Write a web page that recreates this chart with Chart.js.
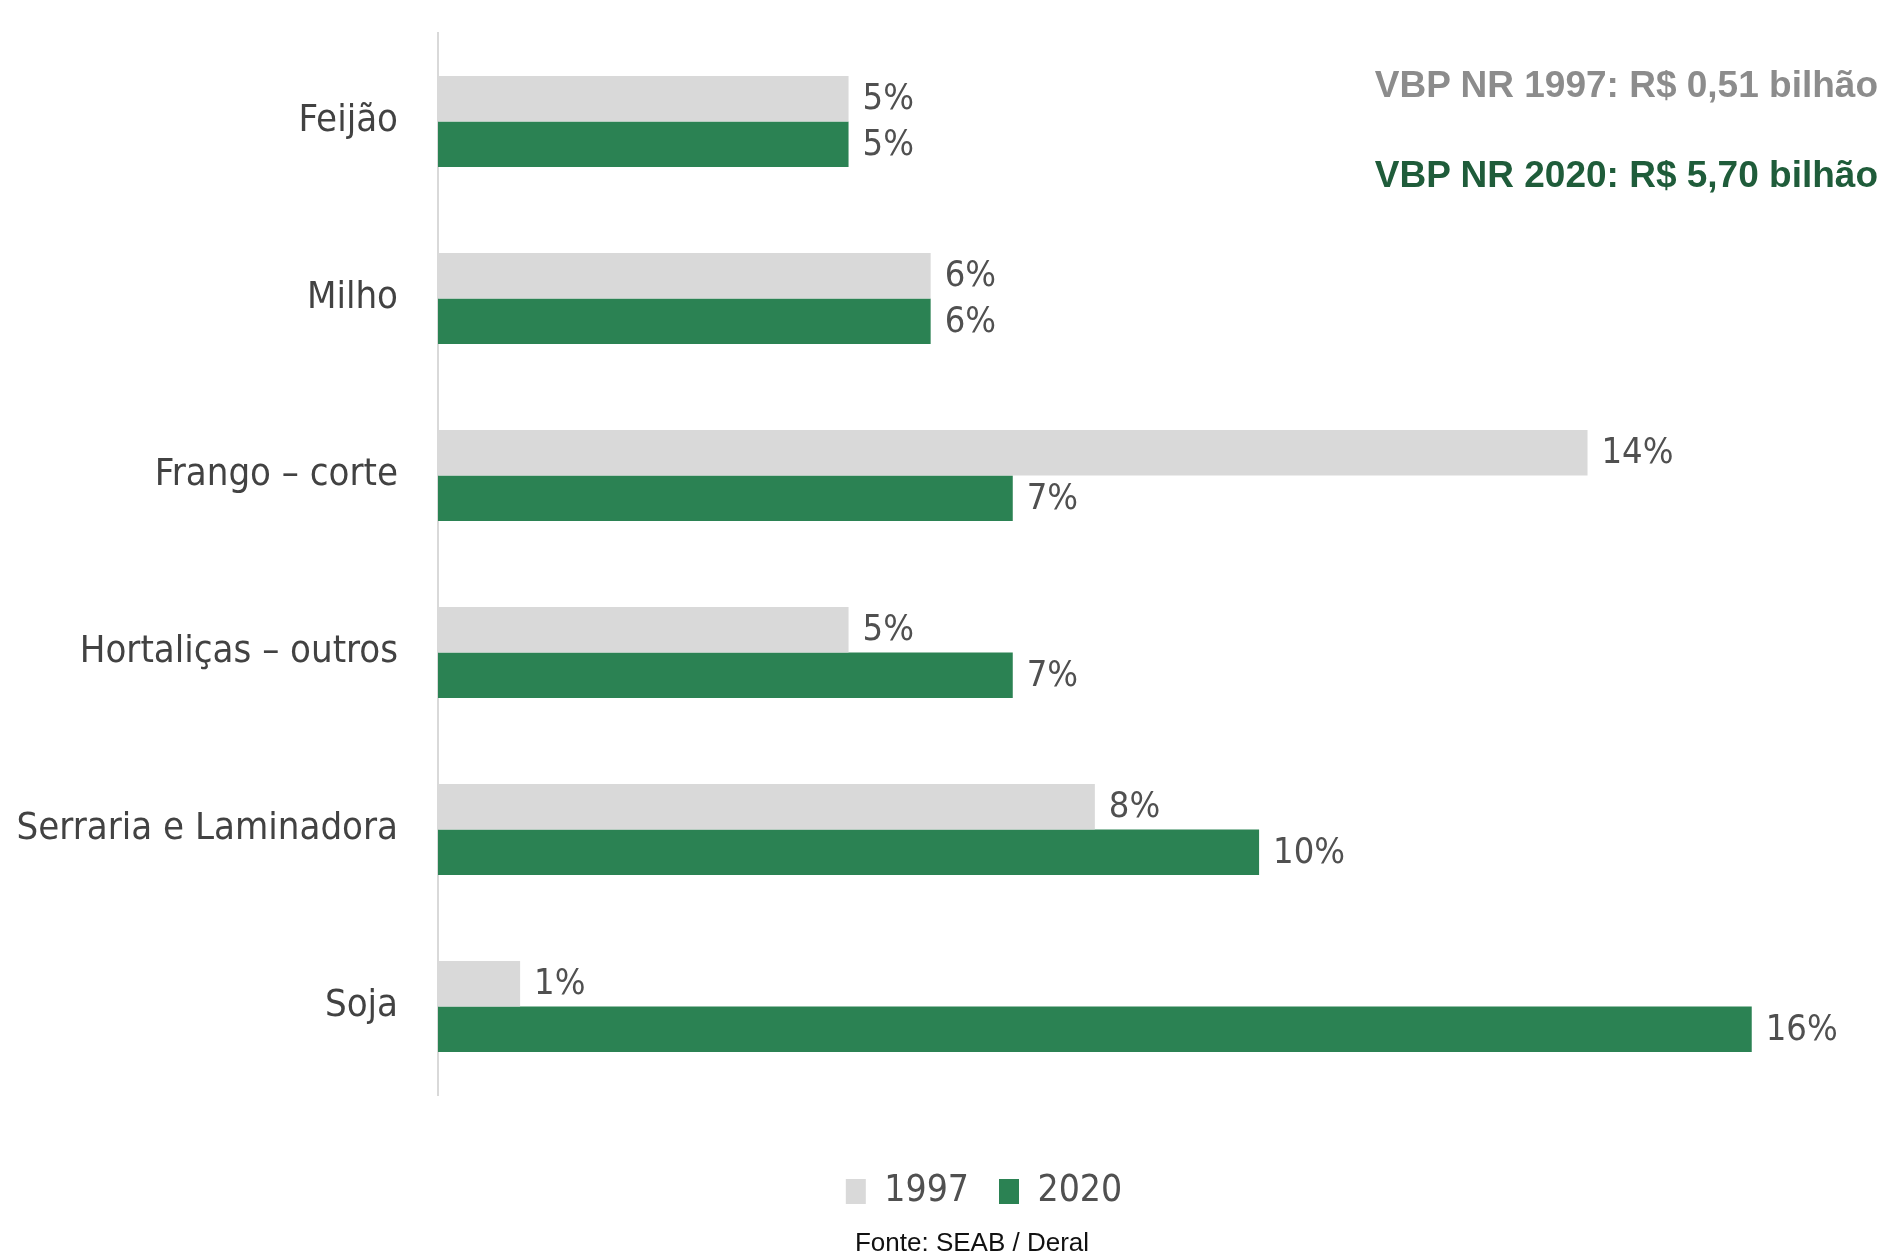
<!DOCTYPE html>
<html>
<head>
<meta charset="utf-8">
<script src="https://cdn.jsdelivr.net/npm/chart.js@4/dist/chart.umd.min.js"></script>
<style>
  html, body { margin: 0; padding: 0; background: #ffffff; }
  #wrap { position: relative; width: 1902px; height: 1254px; overflow: hidden; }
  #c { position: absolute; left: 0; top: 0; }
  .note { position: absolute; right: 24px; font-family: "Liberation Sans", Arial, sans-serif; font-weight: bold; font-size: 37px; white-space: nowrap; }
  #n1 { top: 64px; color: #8c8c8c; }
  #n2 { top: 154px; color: #1f5c3a; }
  #src { position: absolute; left: 972px; top: 1242px; transform: translate(-50%, -50%); font-family: "Liberation Sans", Arial, sans-serif; font-size: 26px; color: #111111; white-space: nowrap; }
</style>
</head>
<body>
<div id="wrap">
  <canvas id="c" width="1902" height="1254"></canvas>
  <div class="note" id="n1">VBP NR 1997: R$ 0,51 bilhão</div>
  <div class="note" id="n2">VBP NR 2020: R$ 5,70 bilhão</div>
  <div id="src"></div>
</div>
<script>
const categories = ['Feijão', 'Milho', 'Frango – corte', 'Hortaliças – outros', 'Serraria e Laminadora', 'Soja'];
const seriesNames = ['1997', '2020'];
const values1997 = [5, 6, 14, 5, 8, 1];
const values2020 = [5, 6, 7, 7, 10, 16];
const sourceText = 'Fonte: SEAB / Deral';

document.getElementById('src').textContent = sourceText;

const labelFont = '"DejaVu Sans Condensed", "Liberation Sans Narrow", "DejaVu Sans", sans-serif';

const valueLabels = {
  id: 'valueLabels',
  afterDatasetsDraw(chart) {
    const ctx = chart.ctx;
    ctx.save();
    ctx.font = '36px ' + labelFont;
    ctx.fillStyle = '#505050';
    ctx.textAlign = 'left';
    ctx.textBaseline = 'middle';
    chart.data.datasets.forEach((ds, di) => {
      const meta = chart.getDatasetMeta(di);
      meta.data.forEach((el, i) => {
        ctx.fillText(ds.data[i] + '%', el.x + 14, el.y + 1);
      });
    });
    ctx.restore();
  }
};

new Chart(document.getElementById('c'), {
  type: 'bar',
  data: {
    labels: categories,
    datasets: [
      { label: seriesNames[0], data: values1997, backgroundColor: '#d9d9d9', borderWidth: 0 },
      { label: seriesNames[1], data: values2020, backgroundColor: '#2b8253', borderWidth: 0 }
    ]
  },
  options: {
    indexAxis: 'y',
    responsive: false,
    animation: false,
    devicePixelRatio: 1,
    categoryPercentage: 0.514,
    barPercentage: 1.0,
    layout: { padding: { top: 33, right: -66, left: 0, bottom: 34 } },
    scales: {
      x: {
        display: true, min: 0, max: 17.83,
        grid: { display: false, drawTicks: false },
        border: { display: false },
        ticks: { display: false },
        afterFit(s) { s.height = 48; }
      },
      y: {
        afterFit(s) { s.width = 438; s.paddingTop = 0; s.paddingBottom = 0; },
        grid: { display: false, drawTicks: false },
        border: { display: true, color: '#d9d9d9', width: 2 },
        ticks: {
          padding: 40,
          color: '#424242',
          font: { family: labelFont, size: 38 }
        }
      }
    },
    plugins: {
      tooltip: { enabled: false },
      legend: {
        position: 'bottom',
        labels: {
          color: '#505050',
          font: { family: labelFont, size: 37 },
          boxWidth: 20,
          boxHeight: 25,
          padding: 30
        }
      }
    }
  },
  plugins: [valueLabels]
});
</script>
</body>
</html>
